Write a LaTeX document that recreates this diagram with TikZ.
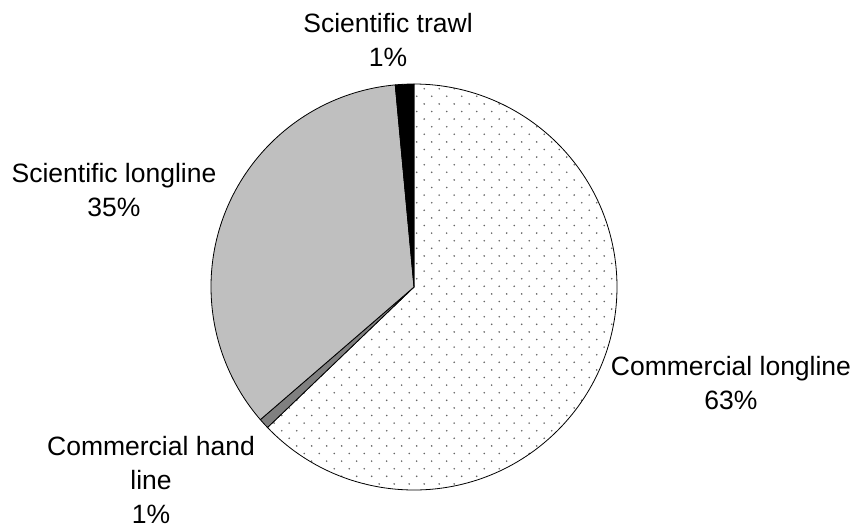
\documentclass[tikz,border=0pt]{standalone}
\usepackage{fontspec}
\setmainfont{Liberation Sans}
\usepackage{tikz}

\begin{document}
\begin{tikzpicture}[
      x=1pt, y=1pt,
      nodes={
        font=\fontsize{26.5}{34}\selectfont, align=center,
        inner sep=0pt, anchor=north
      },
      slice/.style={draw=black, line width=0.8pt},
      dot/.style={fill=black!60}
      ]
      \useasboundingbox (0,0) rectangle (856,-531);

      \coordinate (o) at (414,-287);

      % Commercial longline (dotted)
      \fill[white] (o) -- ++(-136.2:203) arc[start angle=-136.2, end angle=90, radius=203] -- cycle;
      \begin{scope}
        \clip (o) -- ++(-136.2:203) arc[start angle=-136.2, end angle=90, radius=203] -- cycle;
        \foreach \j in {0,...,54}
          \foreach \k in {0,...,28}
            \fill[dot] ({206.7+15*\k-7.5*mod(\j,2)},{-81.1-7.6*\j}) circle[radius=0.9];
      \end{scope}
      \draw[slice] (o) -- ++(-136.2:203) arc[start angle=-136.2, end angle=90, radius=203] -- cycle;

      \draw[slice, fill=black!50] (o) -- ++(220.8:203) arc[start angle=220.8, end angle=223.8, radius=203] -- cycle;
      \draw[slice, fill=black!25] (o) -- ++(95.3:203) arc[start angle=95.3, end angle=220.8, radius=203] -- cycle;
      \draw[slice, fill=black] (o) -- ++(90:203) arc[start angle=90, end angle=95.3, radius=203] -- cycle;

      % labels
      \node (strawl) at (388,-13) {Scientific trawl\\1\%};
      \node (slong) at (114,-162.7) {Scientific longline\\35\%};
      \node (clong) at (731,-356) {Commercial longline\\63\%};
      \node (chand) at (151,-436) {Commercial hand\\line\\1\%};

\end{tikzpicture}
\end{document}
